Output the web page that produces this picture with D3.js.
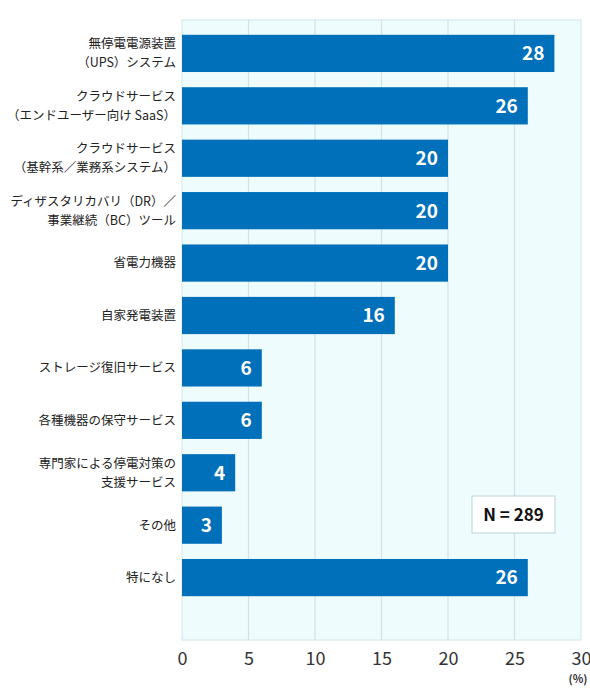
<!DOCTYPE html><html><head><meta charset="utf-8"><script src="https://cdn.jsdelivr.net/npm/d3@7"></script>
<style>body{margin:0;background:#fff}text{font-family:"Noto Sans CJK JP","Noto Sans",sans-serif}</style></head><body>
<svg id="c" width="590" height="700"></svg>
<script>
const categories=[["無停電電源装置","（UPS）システム"],["クラウドサービス","（エンドユーザー向け SaaS）"],["クラウドサービス","（基幹系／業務系システム）"],["ディザスタリカバリ（DR）／","事業継続（BC）ツール"],["省電力機器"],["自家発電装置"],["ストレージ復旧サービス"],["各種機器の保守サービス"],["専門家による停電対策の","支援サービス"],["その他"],["特になし"]];
const values=[28,26,20,20,20,16,6,6,4,3,26];
const ticks=[0,5,10,15,20,25,30];
const svg=d3.select("#c");
const L=182,R=581,T=20,B=640;
const x=d3.scaleLinear().domain([0,30]).range([L,R]);
const y=d3.scaleBand().domain(d3.range(values.length)).range([19.6,611.4]).padding(0.29);
svg.append("rect").attr("x",L).attr("y",T).attr("width",R-L).attr("height",B-T).attr("fill","#effcfd").attr("stroke","#cfe6ec");
svg.append("g").selectAll("line").data(ticks.slice(1,-1)).join("line").attr("x1",d=>x(d)).attr("x2",d=>x(d)).attr("y1",T).attr("y2",B).attr("stroke","#cfe2e8").attr("stroke-width",1.2);
svg.append("g").selectAll("rect").data(values).join("rect").attr("x",L).attr("y",(d,i)=>y(i)).attr("width",d=>x(d)-L).attr("height",y.bandwidth()).attr("fill","#0070bb");
svg.append("g").selectAll("text").data(values).join("text").attr("x",d=>x(d)-10).attr("y",(d,i)=>y(i)+y.bandwidth()/2).attr("dy","0.36em").attr("text-anchor","end").attr("fill","#fff").attr("font-weight","bold").attr("font-size",19).attr("font-family","'Open Sans',sans-serif").text(d=>d);
const lg=svg.append("g");
categories.forEach((c,i)=>{const cy=y(i)+y.bandwidth()/2;const t=lg.append("text").attr("text-anchor","end").attr("font-size",12.5).attr("fill","#222");
c.forEach((s,j)=>t.append("tspan").attr("x",176).attr("y",cy+(j-(c.length-1)/2)*19).attr("dy","0.35em").text(s));});
const ax=d3.axisBottom(x).tickValues(ticks).tickSize(0).tickPadding(12);
const g=svg.append("g").attr("transform",`translate(0,${B})`).call(ax);
g.select(".domain").remove();
g.selectAll("text").attr("font-size",18).attr("fill","#333").attr("font-family","'Open Sans',sans-serif");
svg.append("text").attr("x",578).attr("y",683).attr("text-anchor","middle").attr("font-size",11).attr("font-weight","bold").attr("fill","#333").text("(%)");
svg.append("rect").attr("x",472).attr("y",496).attr("width",83).attr("height",37).attr("fill","#fff").attr("stroke","#b9d3dc");
svg.append("text").attr("x",513.5).attr("y",515).attr("dy","0.36em").attr("text-anchor","middle").attr("font-size",17).attr("font-weight","bold").attr("font-family","'Open Sans',sans-serif").attr("fill","#111").text("N = 289");
</script></body></html>
